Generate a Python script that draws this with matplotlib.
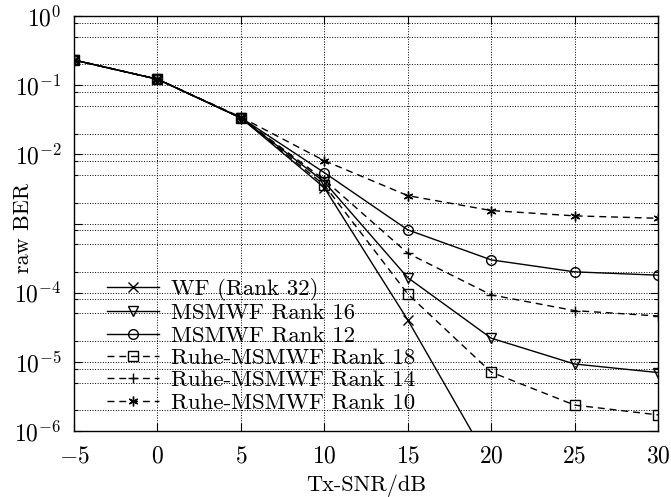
import numpy as np
import matplotlib
matplotlib.use("Agg")
import matplotlib.pyplot as plt
from matplotlib.ticker import LogLocator, FuncFormatter, NullFormatter

plt.rcParams['font.family'] = ['cmr10', 'DejaVu Serif']
plt.rcParams['mathtext.fontset'] = 'cm'
plt.rcParams['axes.formatter.use_mathtext'] = True
plt.rcParams['axes.unicode_minus'] = True

# Datos
snr = [-5, 0, 5, 10, 15, 20, 25, 30]
snr_wf = [-5, 0, 5, 10, 15, 20]
ber_wf = [0.231, 0.122, 0.0336, 0.0033, 4.05e-5, 3.2e-7]
ber_ms16 = [0.231, 0.122, 0.0336, 0.0040, 1.65e-4, 2.2e-5, 9.3e-6, 7.0e-6]
ber_ms12 = [0.231, 0.122, 0.0340, 0.00544, 8.1e-4, 2.98e-4, 2.0e-4, 1.79e-4]
ber_ruhe18 = [0.231, 0.122, 0.0336, 0.0036, 9.6e-5, 7.1e-6, 2.37e-6, 1.71e-6]
ber_ruhe14 = [0.231, 0.122, 0.0340, 0.0043, 3.72e-4, 9.3e-5, 5.5e-5, 4.6e-5]
ber_ruhe10 = [0.231, 0.122, 0.0345, 0.0081, 2.53e-3, 1.54e-3, 1.29e-3, 1.19e-3]

fig = plt.figure(figsize=(6.71, 4.97), dpi=100)
ax = fig.add_axes([0.1103, 0.1328, 0.8703, 0.835])

asterisco = (6, 2, 0)
guion = (0, (5, 3.5))
kw = dict(color='black', lw=1.0, markersize=7, markerfacecolor='none',
          markeredgewidth=1.0)
ax.plot(snr_wf, ber_wf, ls='-', marker='x', label='WF (Rank 32)', **kw)
ax.plot(snr, ber_ms16, ls='-', marker='v', label='MSMWF Rank 16', **kw)
ax.plot(snr, ber_ms12, ls='-', marker='o', label='MSMWF Rank 12', **kw)
ax.plot(snr, ber_ruhe18, ls=guion, marker='s', label='Ruhe-MSMWF Rank 18', **kw)
ax.plot(snr, ber_ruhe14, ls=guion, marker='+', label='Ruhe-MSMWF Rank 14', **kw)
ax.plot(snr, ber_ruhe10, ls=guion, marker=asterisco, label='Ruhe-MSMWF Rank 10', **kw)

ax.set_yscale('log')
ax.set_xlim(-5, 30)
ax.set_ylim(1e-6, 1)
ax.set_xticks(np.arange(-5, 31, 5))
ax.yaxis.set_major_locator(LogLocator(base=10, numticks=10))
ax.yaxis.set_minor_locator(LogLocator(base=10, subs=(2, 5, 8), numticks=10))
ax.yaxis.set_minor_formatter(NullFormatter())


def etiqueta(v, pos):
    e = int(round(np.log10(v)))
    if e == -3:
        return ''
    return r'$10^{%d}$' % e


ax.yaxis.set_major_formatter(FuncFormatter(etiqueta))

ax.grid(True, which='major', ls=':', color='black', lw=0.7)
ax.grid(True, which='minor', axis='y', ls=':', color='black', lw=0.7)
ax.tick_params(which='both', direction='in', top=True, right=True,
               labelsize=17, width=0.8)
ax.tick_params(which='major', length=6)
ax.tick_params(axis='x', which='major', pad=10)
ax.tick_params(axis='y', which='major', pad=9)
ax.tick_params(which='minor', length=3)
for s in ax.spines.values():
    s.set_linewidth(1.0)

ax.set_xlabel('Tx-SNR/dB', fontsize=16)
ax.set_ylabel('raw BER', fontsize=16)
ax.xaxis.set_label_coords(0.5, -0.104)
ax.yaxis.set_label_coords(-0.070, 0.489)

ax.legend(loc='lower left', frameon=False, fontsize=16.5, handlelength=2.3,
          labelspacing=0.1, handletextpad=0.5, borderaxespad=0.0,
          bbox_to_anchor=(0.04, 0.022))

fig.savefig('out.png', dpi=100)
